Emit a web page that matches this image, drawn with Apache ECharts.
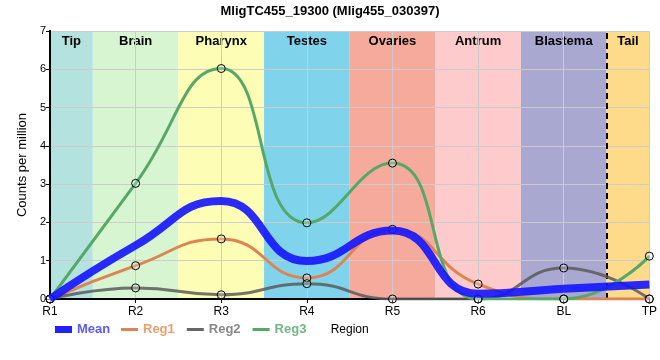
<!DOCTYPE html>
<html><head><meta charset="utf-8">
<script src="https://cdn.jsdelivr.net/npm/echarts@6/dist/echarts.min.js"></script>
<style>html,body{margin:0;padding:0;background:#fff}#c{width:660px;height:360px}</style>
</head><body><div id="c"></div>
<script>
const categories = ['R1','R2','R3','R4','R5','R6','BL','TP'];
const meanVals = [0, 1.40, 2.56, 0.99, 1.79, 0.14, 0.27, 0.38];
const reg1Vals = [0, 0.87, 1.57, 0.55, 1.82, 0.39, 0, 0];
const reg2Vals = [0, 0.29, 0.11, 0.40, 0, 0, 0.81, 0];
const reg3Vals = [0, 3.02, 6.02, 1.99, 3.55, 0, 0, 1.12];
const regionNames = ['Tip','Brain','Pharynx','Testes','Ovaries','Antrum','Blastema','Tail'];
const regionStarts = [0, 0.5, 1.5, 2.5, 3.5, 4.5, 5.5, 6.5];
const regionEnds = [0.5, 1.5, 2.5, 3.5, 4.5, 5.5, 6.5, 7];
const regionColors = ['#b3e2df','#d6f5d0','#fdfdb6','#7fd4eb','#f5aa9c','#fdcbcb','#a9a8d0','#fedb8b'];
const yTicks = [0,1,2,3,4,5,6,7];
const dashPos = 6.5;

const toPts = arr => arr.map((v,i)=>[i,v]);
const font = 'Liberation Sans, Arial, sans-serif';
const markerStyle = {color:'rgba(255,255,255,0.25)', borderColor:'#000', borderWidth:1};

const chart = echarts.init(document.getElementById('c'), null, {renderer:'canvas'});
chart.setOption({
  animation:false,
  title:{text:'MligTC455_19300 (Mlig455_030397)', left:'center', top:0,
    textStyle:{fontFamily:font, fontSize:13, fontWeight:'bold', color:'#000'}},
  grid:{left:50, right:9, top:31, bottom:61},
  xAxis:[{type:'value', min:0, max:7, interval:1, z:3,
    name:'Region', nameLocation:'middle', nameGap:25,
    nameTextStyle:{fontFamily:font, fontSize:12, color:'#000'},
    axisLine:{show:true, onZero:false, lineStyle:{color:'#000', width:2}},
    axisTick:{show:true, length:4, lineStyle:{color:'#000'}},
    axisLabel:{fontFamily:font, fontSize:12, color:'#000', margin:7,
      formatter:v=>categories[v] ?? ''},
    splitLine:{show:true, lineStyle:{color:'#cccccc', width:1}}},
   {type:'value', min:0, max:7, position:'top', z:3,
    axisLine:{show:true, lineStyle:{color:'#000', width:2}},
    axisTick:{show:false}, axisLabel:{show:false}, splitLine:{show:false}}],
  yAxis:[{type:'value', min:0, max:7, interval:1, z:3,
    name:'Counts per million', nameLocation:'middle', nameGap:17,
    nameTextStyle:{fontFamily:font, fontSize:13, color:'#000'},
    axisLine:{show:true, lineStyle:{color:'#000', width:2}},
    axisTick:{show:true, length:4, lineStyle:{color:'#000'}},
    axisLabel:{fontFamily:font, fontSize:11, color:'#000', margin:4,
      formatter:v=>yTicks.includes(v)?String(v):''},
    splitLine:{show:true, lineStyle:{color:'#cccccc', width:1}}},
   {type:'value', min:0, max:7, position:'right', z:3,
    axisLine:{show:true, lineStyle:{color:'#000', width:2}},
    axisTick:{show:false}, axisLabel:{show:false}, splitLine:{show:false}}],
  legend:[{data:[{name:'Mean', icon:'rect', itemStyle:{color:'#2222ff'}, textStyle:{color:'#5a5aff'}}],
     left:50, top:318, itemWidth:17, itemHeight:7, itemGap:10,
     textStyle:{fontFamily:font, fontSize:13, fontWeight:'bold'}},
    {data:[{name:'Reg1', icon:'rect', itemStyle:{color:'#dd8452', borderWidth:0}, textStyle:{color:'#e8a070'}},
           {name:'Reg2', icon:'rect', itemStyle:{color:'#666666', borderWidth:0}, textStyle:{color:'#888888'}},
           {name:'Reg3', icon:'rect', itemStyle:{color:'#55a868', borderWidth:0}, textStyle:{color:'#70b884'}}],
     left:116, top:318, itemWidth:17, itemHeight:3, itemGap:12,
     textStyle:{fontFamily:font, fontSize:13, fontWeight:'bold'}}],
  series:[
    {type:'line', name:'bands', data:[], silent:true, z:1,
     markArea:{silent:true,
       label:{show:true, position:'insideTop', distance:4, fontFamily:font, fontSize:13, fontWeight:'bold', color:'#000'},
       data: regionNames.map((n,i)=>[{name:n, xAxis:regionStarts[i], itemStyle:{color:regionColors[i], opacity:1}},{xAxis:regionEnds[i]}])},
     markLine:{silent:true, symbol:'none', label:{show:false},
       lineStyle:{color:'#000', type:[6,4], width:2},
       data:[{xAxis:dashPos}]}},
    {type:'line', name:'Reg1', data:toPts(reg1Vals), smooth:0.5, z:5,
     symbol:'circle', symbolSize:8, itemStyle:markerStyle,
     lineStyle:{color:'#dd8452', width:3}},
    {type:'line', name:'Reg2', data:toPts(reg2Vals), smooth:0.5, z:5,
     symbol:'circle', symbolSize:8, itemStyle:markerStyle,
     lineStyle:{color:'rgba(90,90,90,0.85)', width:3}},
    {type:'line', name:'Reg3', data:toPts(reg3Vals), smooth:0.5, z:5,
     symbol:'circle', symbolSize:8, itemStyle:markerStyle,
     lineStyle:{color:'#55a868', width:3}},
    {type:'line', name:'Mean', data:toPts(meanVals), smooth:0.5, z:6,
     showSymbol:false, symbol:'none', itemStyle:{color:'#2222ff'},
     lineStyle:{color:'rgba(20,20,255,0.9)', width:8}}
  ]
});
</script></body></html>
